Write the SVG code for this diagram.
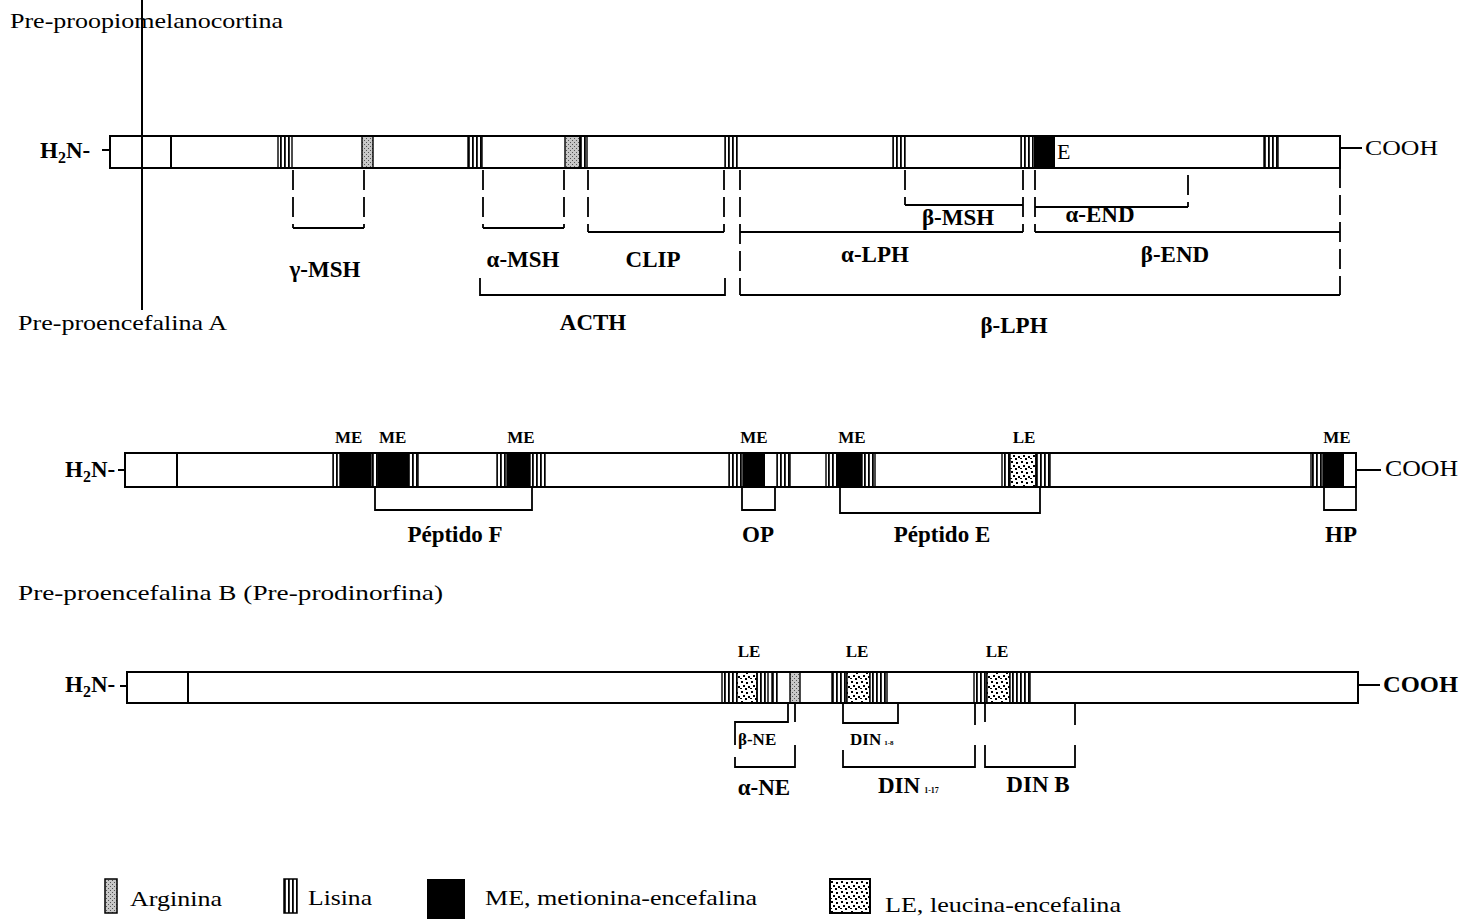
<svg xmlns="http://www.w3.org/2000/svg" width="1464" height="919" viewBox="0 0 1464 919">
<defs>
<pattern id="lys" patternUnits="userSpaceOnUse" width="4" height="8"><rect width="4" height="8" fill="#fff"/><rect width="1.8" height="8" fill="#000"/></pattern>
<pattern id="arg" patternUnits="userSpaceOnUse" width="4" height="4"><rect width="4" height="4" fill="#c8c8c8"/><rect x="0" y="0" width="1" height="1" fill="#555"/><rect x="2" y="2" width="1" height="1" fill="#555"/></pattern>
<pattern id="le" patternUnits="userSpaceOnUse" width="10" height="10"><rect width="10" height="10" fill="#fff"/><rect x="1" y="1" width="2" height="2" fill="#000"/><rect x="6" y="2" width="2" height="2" fill="#000"/><rect x="3" y="5" width="2" height="2" fill="#000"/><rect x="8" y="6" width="2" height="2" fill="#000"/><rect x="0" y="8" width="2" height="1" fill="#000"/><rect x="5" y="8" width="2" height="2" fill="#000"/></pattern>
<style>
.bar{fill:#fff;stroke:#000;stroke-width:2}
.outl{fill:none;stroke:#000;stroke-width:2}
.seg{stroke:#000;stroke-width:1.4}
.lys{fill:url(#lys)}
.arg{fill:url(#arg)}
.me{fill:#000}
.le{fill:url(#le)}
.div{stroke:#000;stroke-width:2}
.br{fill:none;stroke:#000;stroke-width:1.8}
.dash{fill:none;stroke:#000;stroke-width:1.8;stroke-dasharray:20 7}
text{font-family:"Liberation Serif","Times New Roman",serif;fill:#000}
.t{font-size:22px}
.b{font-size:23px;font-weight:bold}
.s{font-size:17px;font-weight:bold}
.l{font-size:22px}
</style>
</defs>
<rect width="1464" height="919" fill="#fff"/>

<g id="title-pomc"><text class="t" x="10" y="28" textLength="273" lengthAdjust="spacingAndGlyphs">Pre-proopiomelanocortina</text></g>
<g id="title-penkA"><text class="t" x="18" y="330" textLength="209" lengthAdjust="spacingAndGlyphs">Pre-proencefalina A</text></g>
<g id="title-penkB"><text class="t" x="18" y="600" textLength="425" lengthAdjust="spacingAndGlyphs">Pre-proencefalina B (Pre-prodinorfina)</text></g>

<g id="bar-pomc">
<text class="b" x="40" y="158">H<tspan font-size="16" dy="5">2</tspan><tspan dy="-5">N-</tspan></text>
<line x1="102" y1="150" x2="110" y2="150" class="div"/>
<rect class="bar" x="110" y="136" width="1230" height="32"/>
<line class="div" x1="171" y1="136" x2="171" y2="168"/>
<rect class="lys seg" x="278" y="136" width="14" height="32"/>
<rect class="arg seg" x="362" y="136" width="11" height="32"/>
<rect class="lys seg" x="468" y="136" width="14" height="32"/>
<rect class="arg seg" x="565" y="136" width="15" height="32"/>
<rect class="lys seg" x="580" y="136" width="7" height="32"/>
<rect class="lys seg" x="725" y="136" width="12" height="32"/>
<rect class="lys seg" x="893" y="136" width="12" height="32"/>
<rect class="lys seg" x="1021" y="136" width="12" height="32"/>
<rect class="me" x="1034" y="136" width="21" height="32"/>
<text class="t" x="1057" y="159" font-size="18">E</text>
<rect class="lys seg" x="1264" y="136" width="14" height="32"/>
<rect class="outl" x="110" y="136" width="1230" height="32"/>
<line class="div" x1="1340" y1="148" x2="1362" y2="148"/>
<text class="t" x="1365" y="155" textLength="73" lengthAdjust="spacingAndGlyphs">COOH</text>
</g>
<g id="marker-line"><line x1="142" y1="0" x2="142" y2="310" stroke="#000" stroke-width="2"/></g>

<g id="bar-penkA">
<text class="b" x="65" y="477">H<tspan font-size="16" dy="5">2</tspan><tspan dy="-5">N-</tspan></text>
<line x1="118" y1="470" x2="125" y2="470" class="div"/>
<rect class="bar" x="125" y="453" width="1231" height="34"/>
<line class="div" x1="177" y1="453" x2="177" y2="487"/>
<rect class="lys seg" x="333" y="453" width="7" height="34"/>
<rect class="me" x="340" y="453" width="31" height="34"/>
<rect class="lys seg" x="371" y="453" width="7" height="34"/>
<rect class="me" x="378" y="453" width="30" height="34"/>
<rect class="lys seg" x="408" y="453" width="10" height="34"/>
<rect class="lys seg" x="497" y="453" width="10" height="34"/>
<rect class="me" x="507" y="453" width="23" height="34"/>
<rect class="lys seg" x="530" y="453" width="15" height="34"/>
<rect class="lys seg" x="729" y="453" width="14" height="34"/>
<rect class="me" x="743" y="453" width="22" height="34"/>
<rect class="lys seg" x="777" y="453" width="13" height="34"/>
<rect class="lys seg" x="826" y="453" width="11" height="34"/>
<rect class="me" x="837" y="453" width="25" height="34"/>
<rect class="lys seg" x="862" y="453" width="13" height="34"/>
<rect class="lys seg" x="1002" y="453" width="8" height="34"/>
<rect class="le seg" x="1010" y="453" width="26" height="34"/>
<rect class="lys seg" x="1036" y="453" width="14" height="34"/>
<rect class="lys seg" x="1311" y="453" width="12" height="34"/>
<rect class="me" x="1323" y="453" width="21" height="34"/>
<rect class="outl" x="125" y="453" width="1231" height="34"/>
<line class="div" x1="1356" y1="470" x2="1381" y2="470"/>
<text class="b" x="1385" y="476" textLength="73" lengthAdjust="spacingAndGlyphs" style="font-weight:normal">COOH</text>
<text class="s" x="335" y="443">ME</text>
<text class="s" x="379" y="443">ME</text>
<text class="s" x="521" y="443" text-anchor="middle">ME</text>
<text class="s" x="754" y="443" text-anchor="middle">ME</text>
<text class="s" x="852" y="443" text-anchor="middle">ME</text>
<text class="s" x="1024" y="443" text-anchor="middle">LE</text>
<text class="s" x="1337" y="443" text-anchor="middle">ME</text>
</g>

<g id="bar-penkB">
<text class="b" x="65" y="692">H<tspan font-size="16" dy="5">2</tspan><tspan dy="-5">N-</tspan></text>
<line x1="120" y1="686" x2="127" y2="686" class="div"/>
<rect class="bar" x="127" y="672" width="1231" height="31"/>
<line class="div" x1="188" y1="672" x2="188" y2="703"/>
<rect class="lys seg" x="722" y="672" width="15" height="31"/>
<rect class="le seg" x="737" y="672" width="20" height="31"/>
<rect class="lys seg" x="757" y="672" width="11" height="31"/>
<rect class="lys seg" x="772" y="672" width="5" height="31"/>
<rect class="arg seg" x="790" y="672" width="10" height="31"/>
<rect class="lys seg" x="832" y="672" width="15" height="31"/>
<rect class="le seg" x="847" y="672" width="23" height="31"/>
<rect class="lys seg" x="870" y="672" width="17" height="31"/>
<rect class="lys seg" x="974" y="672" width="13" height="31"/>
<rect class="le seg" x="987" y="672" width="23" height="31"/>
<rect class="lys seg" x="1010" y="672" width="20" height="31"/>
<rect class="outl" x="127" y="672" width="1231" height="31"/>
<line class="div" x1="1358" y1="685" x2="1380" y2="685"/>
<text class="b" x="1383" y="692" textLength="75" lengthAdjust="spacingAndGlyphs">COOH</text>
<text class="s" x="749" y="657" text-anchor="middle">LE</text>
<text class="s" x="857" y="657" text-anchor="middle">LE</text>
<text class="s" x="997" y="657" text-anchor="middle">LE</text>
</g>

<g id="connectors">
<line class="dash" x1="293" y1="170" x2="293" y2="228"/>
<line class="dash" x1="364" y1="170" x2="364" y2="228"/>
<line class="br" x1="293" y1="228" x2="364" y2="228"/>
<line class="dash" x1="483" y1="170" x2="483" y2="228"/>
<line class="dash" x1="564" y1="170" x2="564" y2="228"/>
<line class="br" x1="483" y1="228" x2="564" y2="228"/>
<line class="dash" x1="588" y1="170" x2="588" y2="232"/>
<line class="dash" x1="724" y1="170" x2="724" y2="232"/>
<line class="br" x1="588" y1="232" x2="724" y2="232"/>
<path class="br" d="M480,278 V295 H725 V278"/>
<line class="dash" x1="740" y1="170" x2="740" y2="295"/>
<line class="br" x1="740" y1="232" x2="1023" y2="232"/>
<line class="dash" x1="905" y1="170" x2="905" y2="205"/>
<line class="br" x1="905" y1="205" x2="1023" y2="205"/>
<line class="dash" x1="1023" y1="170" x2="1023" y2="232"/>
<line class="dash" x1="1035" y1="170" x2="1035" y2="232"/>
<line class="br" x1="1035" y1="207" x2="1188" y2="207"/>
<line class="dash" x1="1188" y1="175" x2="1188" y2="207"/>
<line class="br" x1="1035" y1="232" x2="1340" y2="232"/>
<line class="dash" x1="1340" y1="168" x2="1340" y2="295"/>
<line class="br" x1="740" y1="295" x2="1340" y2="295"/>
<path class="br" d="M375,487 V510 H532 V487"/>
<path class="br" d="M742,487 V510 H775 V487"/>
<path class="br" d="M840,487 V513 H1040 V487"/>
<path class="br" d="M1324,487 V510 H1356 V487"/>
<path class="br" d="M788,703 V722 H735 V745"/>
<path class="br" d="M795,703 V722 M795,745 V767 H735 V757"/>
<path class="br" d="M843,703 V723 H898 V703"/>
<path class="br" d="M843,750 V767 H975 V745 M975,725 V703"/>
<path class="br" d="M985,703 V722 M985,745 V767 H1075 V745 M1075,725 V703"/>
</g>

<g id="labels">
<text class="b" x="325" y="277" text-anchor="middle">γ-MSH</text>
<text class="b" x="523" y="267" text-anchor="middle">α-MSH</text>
<text class="b" x="653" y="267" text-anchor="middle">CLIP</text>
<text class="b" x="593" y="330" text-anchor="middle">ACTH</text>
<text class="b" x="875" y="262" text-anchor="middle">α-LPH</text>
<text class="b" x="958" y="225" text-anchor="middle">β-MSH</text>
<text class="b" x="1100" y="222" text-anchor="middle">α-END</text>
<text class="b" x="1175" y="262" text-anchor="middle">β-END</text>
<text class="b" x="1014" y="333" text-anchor="middle">β-LPH</text>
<text class="b" x="455" y="542" text-anchor="middle">Péptido F</text>
<text class="b" x="758" y="542" text-anchor="middle">OP</text>
<text class="b" x="942" y="542" text-anchor="middle">Péptido E</text>
<text class="b" x="1341" y="542" text-anchor="middle">HP</text>
<text class="s" x="738" y="745">β-NE</text>
<text class="s" x="850" y="745">DIN<tspan font-size="7" dx="3">1-8</tspan></text>
<text class="b" x="764" y="795" text-anchor="middle">α-NE</text>
<text class="b" x="878" y="793">DIN<tspan font-size="8" dx="4">1-17</tspan></text>
<text class="b" x="1038" y="792" text-anchor="middle">DIN B</text>
</g>

<g id="legend">
<rect class="arg" x="105" y="879" width="12" height="34" stroke="#000" stroke-width="1.5"/>
<text class="l" x="130" y="906" textLength="92" lengthAdjust="spacingAndGlyphs">Arginina</text>
<rect class="lys" x="284" y="879" width="13" height="34" stroke="#000" stroke-width="1.5"/>
<text class="l" x="308" y="905" textLength="64" lengthAdjust="spacingAndGlyphs">Lisina</text>
<rect class="me" x="427" y="879" width="38" height="40"/>
<text class="l" x="485" y="905" textLength="272" lengthAdjust="spacingAndGlyphs">ME, metionina-encefalina</text>
<rect class="le" x="830" y="879" width="40" height="34" stroke="#000" stroke-width="2"/>
<text class="l" x="885" y="912" textLength="236" lengthAdjust="spacingAndGlyphs">LE, leucina-encefalina</text>
</g>
</svg>
